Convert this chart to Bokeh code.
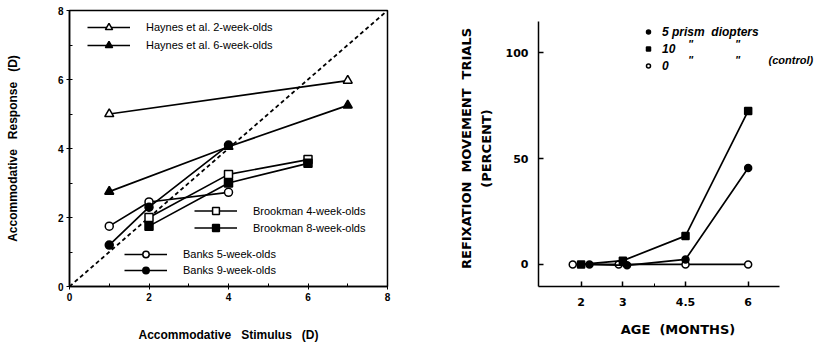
from bokeh.plotting import figure
from bokeh.models import Range1d, FixedTicker, Legend, LegendItem, Label, Title
from bokeh.layouts import row
from bokeh.embed import file_html
from bokeh.resources import INLINE

NB = "\u00a0"

# ---------------- Left panel data ----------------
stim_haynes2 = [1, 7]
resp_haynes2 = [5.0, 5.97]
stim_haynes6 = [1, 4, 7]
resp_haynes6 = [2.75, 4.05, 5.25]
stim_brook = [2, 4, 6]
resp_brook4 = [2.0, 3.25, 3.68]
resp_brook8 = [1.75, 3.0, 3.57]
stim_banks = [1, 2, 4]
resp_banks5 = [1.75, 2.45, 2.73]
resp_banks9 = [1.2, 2.3, 4.1]
identity_x = [0, 8]
identity_y = [0, 8]
left_major_ticks = [0, 2, 4, 6, 8]
left_minor_ticks = [1, 3, 5, 7]

# ---------------- Right panel data ----------------
age_5 = [2.2, 3.1, 4.5, 6.0]
pct_5 = [0, -0.4, 2.4, 45.5]
age_10 = [2.0, 3.0, 4.5, 6.0]
pct_10 = [0, 1.8, 13.5, 72.5]
age_0 = [1.8, 2.9, 4.5, 6.0]
pct_0 = [0, 0, 0, 0]
age_ticks = [2, 3, 4.5, 6]
age_minor = [3.75]
pct_ticks = [0, 50, 100]
age_axis = (0.98, 6.75)
pct_axis = (-10.4, 114.7)

FONT_L = "Liberation Sans"
FONT_R = "DejaVu Sans"
LW = 1.7

# ================= LEFT =================
p1 = figure(width=410, height=347, x_range=Range1d(0, 8), y_range=Range1d(0, 8),
            output_backend="svg", toolbar_location=None,
            min_border_left=69, min_border_right=23, min_border_top=10, min_border_bottom=61)
p1.grid.visible = False
p1.outline_line_color = "black"
p1.outline_line_width = 1.5
for ax in (p1.xaxis[0], p1.yaxis[0]):
    ax.ticker = FixedTicker(ticks=left_major_ticks, minor_ticks=left_minor_ticks)
    ax.axis_line_width = 1.5
    ax.major_tick_in = 3
    ax.major_tick_out = 3
    ax.minor_tick_in = 3
    ax.minor_tick_out = 0
    ax.major_label_text_font = FONT_L
    ax.major_label_text_font_style = "bold"
    ax.major_label_text_font_size = "10px"
    ax.major_label_text_color = "black"
    ax.axis_label_text_font = FONT_L
    ax.axis_label_text_font_style = "bold"
    ax.axis_label_text_font_size = "12px"
    ax.axis_label_text_color = "black"
p1.xaxis.axis_label = "Accommodative" + NB * 3 + "Stimulus" + NB * 3 + "(D)"
p1.yaxis.axis_label = "Accommodative" + NB * 3 + "Response" + NB * 3 + "(D)"
p1.xaxis.major_label_standoff = 3
p1.xaxis.axis_label_standoff = 24
p1.yaxis.major_label_standoff = 3
p1.yaxis.axis_label_standoff = 35

p1.line(identity_x, identity_y, line_dash="4 3", line_width=1.8, color="black")

def series(p, x, y, marker, filled, size):
    l = p.line(x, y, line_width=LW, color="black")
    s = p.scatter(x, y, marker=marker, size=size, line_color="black", line_width=1.5,
                  fill_color="black" if filled else "white")
    return [l, s]

r_h2 = series(p1, stim_haynes2, resp_haynes2, "triangle", False, 9)
r_h6 = series(p1, stim_haynes6, resp_haynes6, "triangle", True, 9)
r_b4 = series(p1, stim_brook, resp_brook4, "square", False, 8)
r_b8 = series(p1, stim_brook, resp_brook8, "square", True, 8)
r_k5 = series(p1, stim_banks, resp_banks5, "circle", False, 8)
r_k9 = series(p1, stim_banks, resp_banks9, "circle", True, 8)

def mk_legend(items, loc, gh):
    return Legend(items=items, location=loc, glyph_width=43, glyph_height=gh,
                  label_height=gh, spacing=0, label_standoff=16, padding=0, margin=0,
                  border_line_alpha=0, background_fill_alpha=0,
                  label_text_font=FONT_L, label_text_font_size="11px",
                  label_text_color="black")

p1.add_layout(mk_legend([LegendItem(label="Haynes et al. 2-week-olds", renderers=r_h2),
                         LegendItem(label="Haynes et al. 6-week-olds", renderers=r_h6)],
                        (18, 232), 18))
p1.add_layout(mk_legend([LegendItem(label="Brookman 4-week-olds", renderers=r_b4),
                         LegendItem(label="Brookman 8-week-olds", renderers=r_b8)],
                        (125, 50), 17))
p1.add_layout(mk_legend([LegendItem(label="Banks 5-week-olds", renderers=r_k5),
                         LegendItem(label="Banks 9-week-olds", renderers=r_k9)],
                        (55, 8), 16))

# ================= RIGHT =================
# frame spans a little beyond the drawn axes so the legend text fits; axes use bounds
p2 = figure(width=409, height=347, x_range=Range1d(0.98, 7.66), y_range=Range1d(-10.4, 119.9),
            output_backend="svg", toolbar_location=None,
            min_border_left=128, min_border_right=2, min_border_top=10, min_border_bottom=61)
p2.grid.visible = False
p2.outline_line_color = None
p2.xaxis.ticker = FixedTicker(ticks=age_ticks, minor_ticks=age_minor)
p2.yaxis.ticker = FixedTicker(ticks=pct_ticks)
p2.xaxis.bounds = age_axis
p2.yaxis.bounds = pct_axis
for ax in (p2.xaxis[0], p2.yaxis[0]):
    ax.axis_line_width = 1.5
    ax.major_tick_in = 5
    ax.major_tick_out = 0
    ax.minor_tick_in = 3
    ax.minor_tick_out = 0
    ax.major_tick_line_width = 1.5
    ax.major_label_text_font = FONT_R
    ax.major_label_text_font_style = "bold"
    ax.major_label_text_font_size = "11px"
    ax.major_label_text_color = "black"
    ax.axis_label_text_font = FONT_R
    ax.axis_label_text_font_style = "bold"
    ax.axis_label_text_font_size = "13px"
    ax.axis_label_text_color = "black"
p2.yaxis.minor_tick_in = 0
p2.xaxis.axis_label = "AGE" + NB * 2 + "(MONTHS)"
p2.yaxis.axis_label = "(PERCENT)"
p2.xaxis.major_label_standoff = 11
p2.xaxis.axis_label_standoff = 13
p2.yaxis.major_label_standoff = 10
p2.yaxis.axis_label_standoff = 9
p2.add_layout(Title(text="REFIXATION" + NB * 2 + "MOVEMENT" + NB * 2 + "TRIALS", align="center",
                    text_font=FONT_R, text_font_style="bold", text_font_size="13px",
                    text_color="black", standoff=3), "left")

r_0 = series(p2, age_0, pct_0, "circle", False, 7)
r_10 = series(p2, age_10, pct_10, "square", True, 7)
r_5 = series(p2, age_5, pct_5, "circle", True, 7)

leg2 = Legend(items=[LegendItem(label="5" + NB + "prism" + NB * 2 + "diopters", renderers=[r_5[1]]),
                     LegendItem(label="10", renderers=[r_10[1]]),
                     LegendItem(label="0", renderers=[r_0[1]])],
              location=(105, 213), glyph_width=10, glyph_height=15, label_height=15,
              spacing=2, label_standoff=9, padding=0, margin=0,
              border_line_alpha=0, background_fill_alpha=0,
              label_text_font=FONT_L, label_text_font_style="bold italic",
              label_text_font_size="12px", label_text_color="black")
p2.add_layout(leg2)

def note(x, y, txt, align="center"):
    p2.add_layout(Label(x=x, y=y, x_units="screen", y_units="screen", text=txt,
                        text_font=FONT_L, text_font_style="bold italic", text_font_size="11px",
                        text_color="black", text_align=align, text_baseline="middle"))

note(152, 243, '"')
note(199, 243, '"')
note(152, 227, '"')
note(199, 227, '"')
note(230, 227, "(control)", "left")

layout = row(p1, p2)
open("out.html", "w").write(file_html(layout, INLINE))
